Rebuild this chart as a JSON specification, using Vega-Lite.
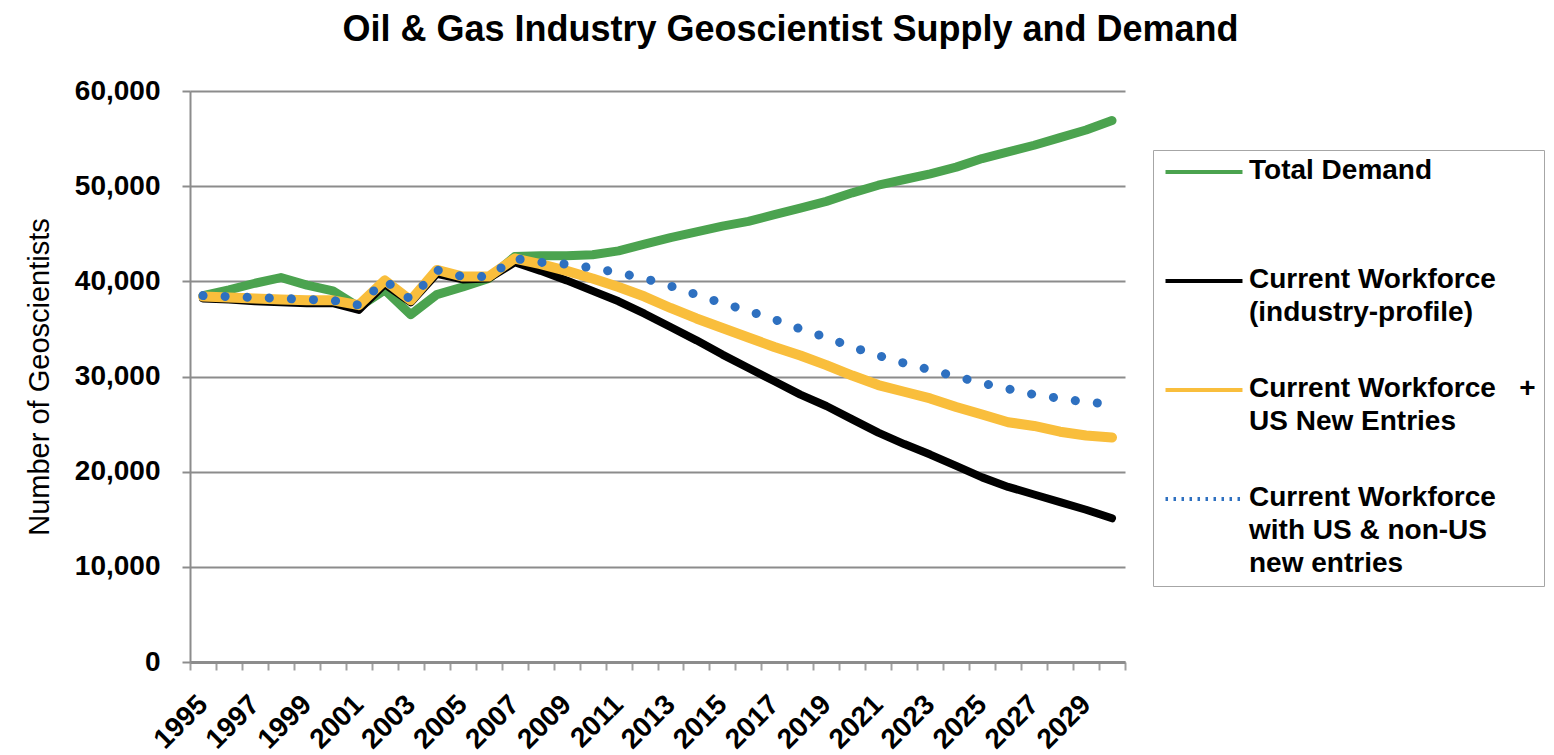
{
  "$schema": "https://vega.github.io/schema/vega-lite/v6.json",
  "width": 935,
  "height": 571,
  "autosize": {"type": "none"},
  "padding": {"left": 190, "top": 91, "right": 429, "bottom": 93},
  "background": "white",
  "title": {
    "text": "Oil & Gas Industry Geoscientist Supply and Demand",
    "font": "Liberation Sans",
    "fontSize": 36,
    "fontWeight": "bold",
    "color": "#000000",
    "anchor": "middle",
    "dx": 133,
    "offset": 28
  },
  "config": {"view": {"stroke": null}, "font": "Liberation Sans"},
  "data": {
    "values": [
      {"year": 1995, "demand": 38500, "workforce": 38200, "us_entries": 38400, "all_entries": 38500},
      {"year": 1996, "demand": 39100, "workforce": 38100, "us_entries": 38300, "all_entries": 38400},
      {"year": 1997, "demand": 39800, "workforce": 37900, "us_entries": 38200, "all_entries": 38300},
      {"year": 1998, "demand": 40400, "workforce": 37800, "us_entries": 38100, "all_entries": 38200},
      {"year": 1999, "demand": 39600, "workforce": 37700, "us_entries": 38000, "all_entries": 38100},
      {"year": 2000, "demand": 39000, "workforce": 37700, "us_entries": 38000, "all_entries": 38000},
      {"year": 2001, "demand": 37300, "workforce": 37000, "us_entries": 37500, "all_entries": 37500},
      {"year": 2002, "demand": 39100, "workforce": 39700, "us_entries": 40100, "all_entries": 40100},
      {"year": 2003, "demand": 36500, "workforce": 37800, "us_entries": 38000, "all_entries": 38100},
      {"year": 2004, "demand": 38600, "workforce": 40800, "us_entries": 41200, "all_entries": 41200},
      {"year": 2005, "demand": 39400, "workforce": 40200, "us_entries": 40500, "all_entries": 40500},
      {"year": 2006, "demand": 40300, "workforce": 40300, "us_entries": 40500, "all_entries": 40500},
      {"year": 2007, "demand": 42600, "workforce": 42000, "us_entries": 42400, "all_entries": 42400},
      {"year": 2008, "demand": 42700, "workforce": 41100, "us_entries": 41800, "all_entries": 42000},
      {"year": 2009, "demand": 42700, "workforce": 40100, "us_entries": 41100, "all_entries": 41800},
      {"year": 2010, "demand": 42800, "workforce": 39000, "us_entries": 40300, "all_entries": 41400},
      {"year": 2011, "demand": 43200, "workforce": 37900, "us_entries": 39400, "all_entries": 40900},
      {"year": 2012, "demand": 43900, "workforce": 36600, "us_entries": 38400, "all_entries": 40300},
      {"year": 2013, "demand": 44600, "workforce": 35200, "us_entries": 37200, "all_entries": 39500},
      {"year": 2014, "demand": 45200, "workforce": 33800, "us_entries": 36100, "all_entries": 38600},
      {"year": 2015, "demand": 45800, "workforce": 32300, "us_entries": 35100, "all_entries": 37700},
      {"year": 2016, "demand": 46300, "workforce": 30900, "us_entries": 34100, "all_entries": 36900},
      {"year": 2017, "demand": 47000, "workforce": 29500, "us_entries": 33100, "all_entries": 36000},
      {"year": 2018, "demand": 47700, "workforce": 28100, "us_entries": 32200, "all_entries": 35000},
      {"year": 2019, "demand": 48400, "workforce": 26900, "us_entries": 31200, "all_entries": 34100},
      {"year": 2020, "demand": 49300, "workforce": 25500, "us_entries": 30100, "all_entries": 33100},
      {"year": 2021, "demand": 50100, "workforce": 24100, "us_entries": 29100, "all_entries": 32200},
      {"year": 2022, "demand": 50700, "workforce": 22900, "us_entries": 28400, "all_entries": 31400},
      {"year": 2023, "demand": 51300, "workforce": 21800, "us_entries": 27700, "all_entries": 30700},
      {"year": 2024, "demand": 52000, "workforce": 20600, "us_entries": 26800, "all_entries": 30000},
      {"year": 2025, "demand": 52900, "workforce": 19400, "us_entries": 26000, "all_entries": 29300},
      {"year": 2026, "demand": 53600, "workforce": 18400, "us_entries": 25200, "all_entries": 28700},
      {"year": 2027, "demand": 54300, "workforce": 17600, "us_entries": 24800, "all_entries": 28100},
      {"year": 2028, "demand": 55100, "workforce": 16800, "us_entries": 24200, "all_entries": 27700},
      {"year": 2029, "demand": 55900, "workforce": 16000, "us_entries": 23800, "all_entries": 27300},
      {"year": 2030, "demand": 56900, "workforce": 15100, "us_entries": 23600, "all_entries": 27100}
    ]
  },
  "transform": [
    {"fold": ["demand", "workforce", "us_entries", "all_entries"], "as": ["series", "value"]}
  ],
  "encoding": {
    "x": {
      "field": "year",
      "type": "ordinal",
      "bandPosition": 0.5,
      "scale": {"type": "band", "paddingInner": 0, "paddingOuter": 0},
      "axis": {
        "title": null,
        "labelAngle": -45,
        "labelAlign": "right",
        "labelBaseline": "middle",
        "labelExpr": "datum.value % 2 == 1 ? datum.label : ''",
        "labelFont": "Liberation Sans",
        "labelFontSize": 28,
        "labelFontWeight": "bold",
        "labelColor": "#000000",
        "labelPadding": 30,
        "labelOverlap": false,
        "tickBand": "extent",
        "tickSize": 8,
        "tickColor": "#a0a0a0",
        "tickWidth": 2,
        "domainColor": "#8c8c8c",
        "domainWidth": 3,
        "grid": false
      }
    },
    "y": {
      "field": "value",
      "type": "quantitative",
      "scale": {"domain": [0, 60000], "nice": false},
      "axis": {
        "values": [0, 10000, 20000, 30000, 40000, 50000, 60000],
        "format": ",d",
        "title": "Number of Geoscientists",
        "titleFont": "Liberation Sans",
        "titleFontSize": 29,
        "titleFontWeight": "normal",
        "titleColor": "#000000",
        "titlePadding": 20,
        "labelFont": "Liberation Sans",
        "labelFontSize": 28,
        "labelFontWeight": "bold",
        "labelColor": "#000000",
        "labelPadding": 22,
        "tickSize": 8,
        "tickColor": "#8c8c8c",
        "tickWidth": 2,
        "domainColor": "#8c8c8c",
        "domainWidth": 2,
        "grid": true,
        "gridColor": "#8c8c8c",
        "gridWidth": 2
      }
    },
    "color": {
      "field": "series",
      "type": "nominal",
      "scale": {
        "domain": ["demand", "workforce", "us_entries", "all_entries"],
        "range": ["#4BA34F", "#000000", "#F9BE3C", "#2E70C0"]
      },
      "legend": {
        "orient": "none",
        "legendX": 963,
        "legendY": 59,
        "title": null,
        "symbolType": "M-5,0H5",
        "symbolSize": 237,
        "symbolStrokeWidth": 4,
        "symbolOffset": 29,
        "labelFont": "Liberation Sans",
        "labelFontSize": 28,
        "labelFontWeight": "bold",
        "labelColor": "#000000",
        "labelBaseline": "top",
        "labelLimit": 400,
        "labelOffset": 31,
        "strokeColor": "#a6a6a6",
        "padding": 8,
        "rowPadding": 15,
        "labelExpr": "datum.value == 'demand' ? ['Total Demand', '', ''] : datum.value == 'workforce' ? ['Current Workforce', '(industry-profile)', ''] : datum.value == 'us_entries' ? ['Current Workforce\u00a0\u00a0\u00a0+', 'US New Entries', ''] : ['Current Workforce', 'with US & non-US', 'new entries']",
        "encode": {
          "labels": {"update": {"dy": {"value": -15}, "lineHeight": {"value": 33}}},
          "symbols": {"update": {"strokeDash": [{"test": "datum.value === 'all_entries'", "value": [2.5, 5.5]}, {"value": []}]}}
        }
      }
    }
  },
  "layer": [
    {"transform": [{"filter": "datum.series == 'demand'"}], "mark": {"type": "line", "strokeWidth": 9, "strokeJoin": "round", "strokeCap": "round"}},
    {"transform": [{"filter": "datum.series == 'workforce'"}], "mark": {"type": "line", "strokeWidth": 8, "strokeJoin": "round", "strokeCap": "round"}},
    {"transform": [{"filter": "datum.series == 'us_entries'"}], "mark": {"type": "line", "strokeWidth": 10, "strokeJoin": "round", "strokeCap": "round"}},
    {"transform": [{"filter": "datum.series == 'all_entries'"}], "mark": {"type": "line", "strokeWidth": 9, "strokeDash": [0.1, 22], "strokeCap": "round", "strokeJoin": "round"}}
  ]
}
